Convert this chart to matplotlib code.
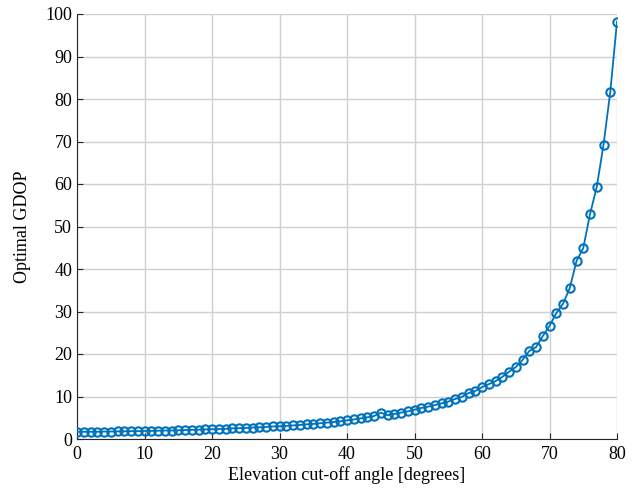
import numpy as np
import matplotlib.pyplot as plt

plt.rcParams['font.family'] = ['Liberation Serif', 'DejaVu Serif']

angle = np.arange(0, 81)
gdop = [1.7, 1.7, 1.7, 1.7, 1.75, 1.75, 1.8, 1.8, 1.85, 1.85,
        1.9, 1.9, 1.95, 2.0, 2.0, 2.05, 2.1, 2.15, 2.2, 2.25,
        2.3, 2.35, 2.4, 2.5, 2.55, 2.6, 2.7, 2.75, 2.85, 2.95,
        3.0, 3.1, 3.2, 3.3, 3.45, 3.55, 3.7, 3.85, 4.0, 4.15,
        4.4, 4.6, 4.85, 5.1, 5.4, 6.2, 5.6, 5.9, 6.2, 6.5,
        6.9, 7.3, 7.6, 8.0, 8.4, 8.8, 9.4, 9.9, 10.8, 11.3,
        12.2, 12.9, 13.6, 14.6, 15.8, 16.9, 18.6, 20.7, 21.6, 24.2,
        26.6, 29.6, 31.8, 35.5, 41.9, 44.9, 52.9, 59.3, 69.2, 81.6,
        98.2]

blue = '#0072BD'

fig, ax = plt.subplots(figsize=(6.34, 4.88), dpi=100)
fig.subplots_adjust(left=77/634, right=617/634, top=1-14/488, bottom=1-439/488)

ax.plot(angle, gdop, '-o', color=blue, lw=1.3, ms=6, mfc='none', mew=1.5, zorder=3)

ax.set_xlim(0, 80)
ax.set_ylim(0, 100)
ax.set_xticks(np.arange(0, 81, 10))
ax.set_yticks(np.arange(0, 101, 10))
ax.grid(True, color='#d0d0d0', lw=1.0)
ax.set_axisbelow(True)
ax.spines['top'].set_visible(False)
ax.spines['right'].set_visible(False)
ax.spines['left'].set_color('#262626')
ax.spines['bottom'].set_color('#262626')
ax.tick_params(direction='in', labelsize=13, length=4, color='#262626')
ax.tick_params(axis='x', pad=5)
ax.set_xlabel('Elevation cut-off angle [degrees]', fontsize=13, labelpad=2)
ax.set_ylabel('Optimal GDOP', fontsize=13, labelpad=10)

fig.savefig('out.png', dpi=100)
